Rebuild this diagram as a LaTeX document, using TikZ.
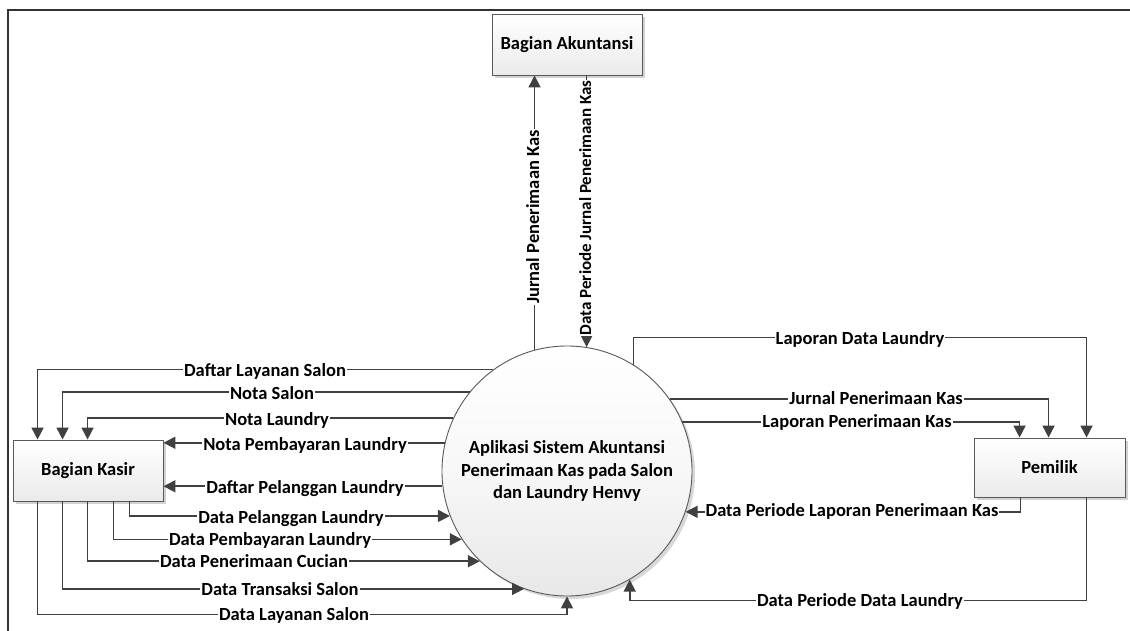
\documentclass[tikz,border=0pt]{standalone}
\usepackage{fontspec}
\setmainfont{Carlito}
\usetikzlibrary{arrows.meta,shadows,calc}
\begin{document}
\begin{tikzpicture}[x=1pt,y=-1pt,
  every node/.style={font=\fontsize{18.5}{22.5}\selectfont\bfseries},
  ent/.style={draw=black!65, line width=0.9pt, top color=white, bottom color=black!8,
    drop shadow={shadow xshift=3pt,shadow yshift=-3pt,fill=black!35,opacity=0.5},
    inner sep=0pt, align=center},
  proc/.style={circle, draw=black!65, line width=0.9pt, minimum size=250pt, inner sep=0pt,
    top color=white, bottom color=black!9, middle color=black!3,
    drop shadow={shadow xshift=3pt,shadow yshift=-3pt,fill=black!30,opacity=0.5},
    align=center},
  con/.style={draw=black!75, line width=1.6pt, -{Triangle[length=12pt,width=12pt]}},
  lbl/.style={fill=white, inner xsep=1pt, inner ysep=1.5pt, text=black,
    text height=12.5pt, text depth=0.5pt},
]
\useasboundingbox (0,0) rectangle (1130,631);
\fill[white] (0,0) rectangle (1130,631);
% frame
\draw[line width=2pt, black!80] (8,631) -- (8,10) -- (1130,10);

% entities
\node[ent, minimum width=150pt, minimum height=61pt] (akun) at (567,44.5) {Bagian Akuntansi};
\node[ent, minimum width=150pt, minimum height=61pt] (kasir) at (88,470.5) {Bagian Kasir};
\node[ent, minimum width=151pt, minimum height=59pt] (pemilik) at (1049.5,467.5) {Pemilik};
\node[proc] (sys) at (567,471) {Aplikasi Sistem Akuntansi\\Penerimaan Kas pada Salon\\dan Laundry Henvy};

% circle -> kasir
\draw[con] (sys.126.1) -| ([xshift=25pt]kasir.north west);
\draw[con] (sys.141.4) -| ([xshift=50pt]kasir.north west);
\draw[con] (sys.155.4) -| ([xshift=75pt]kasir.north west);
\draw[con] (sys.167.5) -- (sys.167.5 -| kasir.east);
\draw[con] (sys.187.4) -- (sys.187.4 -| kasir.east);
% kasir -> circle
\draw[con] ([xshift=117pt]kasir.south west) |- (sys.201.6);
\draw[con] ([xshift=101pt]kasir.south west) |- (sys.213.0);
\draw[con] ([xshift=75pt]kasir.south west) |- (sys.226.1);
\draw[con] ([xshift=50pt]kasir.south west) |- (sys.250.7);
\draw[con] ([xshift=25pt]kasir.south west) |- ([yshift=-18pt]sys.south) -- (sys.south);

% circle -> pemilik
\draw[con] (sys.58.1) -- ++(0,-27) -| ([xshift=113pt]pemilik.north west);
\draw[con] (sys.35.7) -| ([xshift=75pt]pemilik.north west);
\draw[con] (sys.23.6) -| ([xshift=46pt]pemilik.north west);
% pemilik -> circle
\draw[con] ([xshift=47pt]pemilik.south west) |- (sys.341.8);
\draw[con] ([xshift=113pt]pemilik.south west) -- ++(0,103) -| (sys.300.3);

% circle <-> akuntansi
\draw[con] (sys.105.8) -- (sys.105.8 |- akun.south);
\draw[con] (sys.81.7 |- akun.south) -- (sys.81.7);

% labels
\node[lbl] (l1) at (265,370) {Daftar Layanan Salon};
\node[lbl] (l2) at (272,393) {Nota Salon};
\node[lbl] (l3) at (277,419) {Nota Laundry};
\node[lbl] (l4) at (305,444) {Nota Pembayaran Laundry};
\node[lbl] (l5) at (305,487) {Daftar Pelanggan Laundry};
\node[lbl] (l6) at (291,517) {Data Pelanggan Laundry};
\node[lbl] (l7) at (270,539) {Data Pembayaran Laundry};
\node[lbl] (l8) at (254,561) {Data Penerimaan Cucian};
\node[lbl] (l9) at (280,589) {Data Transaksi Salon};
\node[lbl] (l10) at (294,614) {Data Layanan Salon};
\node[lbl] (l11) at (860,338) {Laporan Data Laundry};
\node[lbl] (l12) at (876,398) {Jurnal Penerimaan Kas};
\node[lbl] (l13) at (857,421) {Laporan Penerimaan Kas};
\node[lbl] (l14) at (852,510) {Data Periode Laporan Penerimaan Kas};
\node[lbl] (l15) at (860,600) {Data Periode Data Laundry};
\node[lbl, rotate=90] (l16) at (533,217) {Jurnal Penerimaan Kas};
\node[lbl, rotate=90, font=\fontsize{17}{20}\selectfont\bfseries] (l17) at (585,208) {Data Periode Jurnal Penerimaan Kas};
\end{tikzpicture}
\end{document}
